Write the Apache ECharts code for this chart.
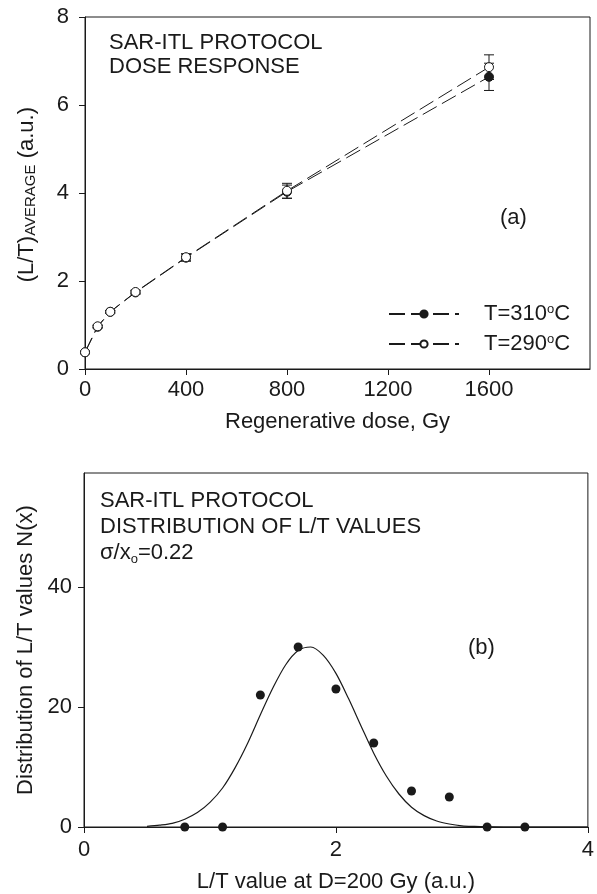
<!DOCTYPE html>
<html>
<head>
<meta charset="utf-8">
<title>SAR-ITL protocol</title>
<script src="https://cdn.jsdelivr.net/npm/echarts@6/dist/echarts.min.js"></script>
<style>
  html, body { margin: 0; padding: 0; background: #fff; }
  #chart { width: 597px; height: 894px; }
</style>
</head>
<body>
<div id="chart"></div>
<script>
// (a) dose response: regenerative dose (Gy) vs average L/T
const doses = [0, 50, 100, 200, 400, 800, 1600];
const lt310 = [0.38, 0.96, 1.30, 1.74, 2.53, 4.03, 6.64];
const lt290 = [0.38, 0.97, 1.30, 1.75, 2.54, 4.05, 6.86];
const err310 = [0.02, 0.03, 0.03, 0.04, 0.08, 0.15, 0.31];
const err290 = [0.02, 0.03, 0.03, 0.04, 0.08, 0.17, 0.28];
const doseTicks = [0, 400, 800, 1200, 1600];
const ltTicks = [0, 2, 4, 6, 8];

// (b) distribution of L/T values at D = 200 Gy, with the fitted curve
const ltValues = [0.8, 1.1, 1.4, 1.7, 2.0, 2.3, 2.6, 2.9, 3.2, 3.5];
const counts = [0, 0, 22, 30, 23, 14, 6, 5, 0, 0];
const fitX = [0.5, 0.6, 0.7, 0.8, 0.9, 1.0, 1.1, 1.2, 1.3, 1.4, 1.5, 1.6, 1.7, 1.8, 1.9, 2.0,
              2.1, 2.2, 2.3, 2.4, 2.5, 2.6, 2.7, 2.8, 2.9, 3.0, 3.1, 3.2, 3.4, 4.0];
const fitY = [0.1, 0.3, 0.6, 1.3, 2.4, 4.1, 6.5, 9.9, 14.0, 18.7, 23.2, 27.0, 29.4, 30.0, 28.6, 25.6,
              21.4, 16.8, 12.3, 8.5, 5.5, 3.3, 1.9, 1.0, 0.5, 0.2, 0.1, 0.05, 0, 0];
const valueTicks = [0, 2, 4];
const countTicks = [0, 20, 40];

const FONT = "'Liberation Sans', Arial, Helvetica, sans-serif";
const INK = '#1a1a1a';

const zip = (xs, ys) => xs.map((x, i) => [x, ys[i]]);
const errRows = (ys, es) => doses.map((d, i) => [d, ys[i] - es[i], ys[i] + es[i]]);

function errorBar(params, api) {
  const x = api.value(0);
  const lo = api.coord([x, api.value(1)]);
  const hi = api.coord([x, api.value(2)]);
  const w = 5;
  const style = { stroke: INK, lineWidth: 1 };
  return {
    type: 'group',
    children: [
      { type: 'line', shape: { x1: lo[0], y1: lo[1], x2: hi[0], y2: hi[1] }, style },
      { type: 'line', shape: { x1: lo[0] - w, y1: lo[1], x2: lo[0] + w, y2: lo[1] }, style },
      { type: 'line', shape: { x1: hi[0] - w, y1: hi[1], x2: hi[0] + w, y2: hi[1] }, style }
    ]
  };
}

const plain = v => String(v);

const axisCommon = {
  axisLine: { show: true, onZero: false, lineStyle: { color: INK, width: 1 } },
  axisTick: { show: true, inside: false, length: 6, lineStyle: { color: INK, width: 1 } },
  splitLine: { show: false },
  nameTextStyle: { fontFamily: FONT, fontSize: 22, color: INK },
  axisLabel: { fontFamily: FONT, fontSize: 22, color: INK, formatter: plain }
};

function axis(extra, ticks, margin) {
  return Object.assign({}, axisCommon, extra, {
    axisTick: Object.assign({}, axisCommon.axisTick, { customValues: ticks }),
    axisLabel: Object.assign({}, axisCommon.axisLabel, { customValues: ticks, margin: margin })
  });
}

const supRich = {
  sup: { fontFamily: FONT, fontSize: 13, color: INK, verticalAlign: 'top', padding: [0, 0, 10, 0] }
};

const chart = echarts.init(document.getElementById('chart'), null, { renderer: 'canvas' });

chart.setOption({
  animation: false,
  backgroundColor: '#fff',
  grid: [
    { left: 85, top: 17, width: 505, height: 352, show: true, borderColor: INK, borderWidth: 1, backgroundColor: 'transparent' },
    { left: 84, top: 473, width: 504, height: 354, show: true, borderColor: INK, borderWidth: 1, backgroundColor: 'transparent' }
  ],
  xAxis: [
    axis({ gridIndex: 0, type: 'value', min: 0, max: 2000, interval: 400,
           name: 'Regenerative dose, Gy', nameLocation: 'middle', nameGap: 42 }, doseTicks, 10),
    axis({ gridIndex: 1, type: 'value', min: 0, max: 4, interval: 2,
           name: 'L/T value at D=200 Gy (a.u.)', nameLocation: 'middle', nameGap: 44 }, valueTicks, 12)
  ],
  yAxis: [
    axis({ gridIndex: 0, type: 'value', min: 0, max: 8, interval: 2 }, ltTicks, 16),
    axis({ gridIndex: 1, type: 'value', min: 0, max: 59, interval: 20,
           name: 'Distribution of L/T values N(x)', nameLocation: 'middle', nameGap: 47 }, countTicks, 12)
  ],
  legend: {
    orient: 'vertical',
    left: 383,
    top: 298,
    itemWidth: 70,
    itemHeight: 9,
    itemGap: 8,
    data: ['T310', 'T290'],
    formatter: name => name === 'T310' ? 'T=310{sup|o}C' : 'T=290{sup|o}C',
    textStyle: { fontFamily: FONT, fontSize: 22, color: INK, lineHeight: 22, padding: [0, 0, 0, 20], rich: supRich }
  },
  graphic: [
    {
      type: 'text', left: 16, top: 107, rotation: Math.PI / 2,
      style: {
        text: '(L/T){sub|AVERAGE} (a.u.)',
        fontFamily: FONT, fontSize: 22, fill: INK,
        rich: { sub: { fontFamily: FONT, fontSize: 15, fill: INK, verticalAlign: 'bottom', padding: [8, 0, 0, 0] } }
      }
    },
    {
      type: 'text', left: 109, top: 31,
      style: { text: 'SAR-ITL PROTOCOL\nDOSE RESPONSE', fontFamily: FONT, fontSize: 22, lineHeight: 24, fill: INK }
    },
    {
      type: 'text', left: 500, top: 207,
      style: { text: '(a)', fontFamily: FONT, fontSize: 22, fill: INK }
    },
    {
      type: 'text', left: 100, top: 488,
      style: {
        text: 'SAR-ITL PROTOCOL\nDISTRIBUTION OF L/T VALUES\nσ/x{sub|o}=0.22',
        fontFamily: FONT, fontSize: 22, lineHeight: 26, fill: INK,
        rich: { sub: { fontFamily: FONT, fontSize: 13, fill: INK, verticalAlign: 'bottom', padding: [10, 0, 0, 0] } }
      }
    },
    {
      type: 'text', left: 468, top: 637,
      style: { text: '(b)', fontFamily: FONT, fontSize: 22, fill: INK }
    }
  ],
  series: [
    {
      type: 'custom', name: 'err310', xAxisIndex: 0, yAxisIndex: 0,
      data: errRows(lt310, err310), renderItem: errorBar, z: 1, silent: true
    },
    {
      type: 'custom', name: 'err290', xAxisIndex: 0, yAxisIndex: 0,
      data: errRows(lt290, err290), renderItem: errorBar, z: 1, silent: true
    },
    {
      type: 'line', name: 'T310', xAxisIndex: 0, yAxisIndex: 0,
      data: zip(doses, lt310),
      symbol: 'circle', symbolSize: 9,
      lineStyle: { color: INK, width: 1, type: [16, 6] },
      itemStyle: { color: INK, borderColor: INK, borderWidth: 1 },
      z: 3
    },
    {
      type: 'line', name: 'T290', xAxisIndex: 0, yAxisIndex: 0,
      data: zip(doses, lt290),
      symbol: 'circle', symbolSize: 9,
      lineStyle: { color: INK, width: 1, type: [16, 6] },
      itemStyle: { color: '#fff', borderColor: INK, borderWidth: 1 },
      z: 4
    },
    {
      type: 'line', name: 'fit', xAxisIndex: 1, yAxisIndex: 1,
      data: zip(fitX, fitY),
      smooth: 0.3,
      showSymbol: false, symbol: 'none',
      lineStyle: { color: INK, width: 1.2 },
      z: 2
    },
    {
      type: 'scatter', name: 'counts', xAxisIndex: 1, yAxisIndex: 1,
      data: zip(ltValues, counts),
      symbol: 'circle', symbolSize: 9,
      itemStyle: { color: INK, opacity: 1 },
      z: 3
    }
  ]
});
</script>
</body>
</html>
